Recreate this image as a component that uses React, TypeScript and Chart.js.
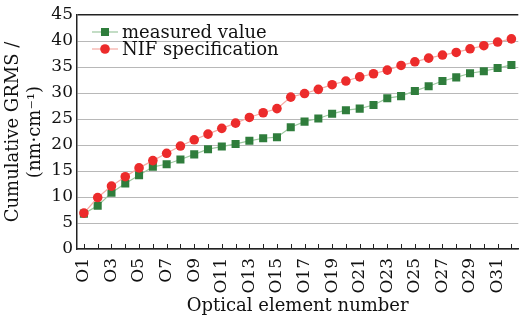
import React, { useEffect, useRef } from "react";
import { Chart, registerables } from "chart.js";

Chart.register(...registerables);

const categories: string[] = [
  "O1", "O2", "O3", "O4", "O5", "O6", "O7", "O8", "O9", "O10", "O11", "O12", "O13", "O14", "O15", "O16",
  "O17", "O18", "O19", "O20", "O21", "O22", "O23", "O24", "O25", "O26", "O27", "O28", "O29", "O30", "O31", "O32",
];

const measuredValue: number[] = [
  6.8, 8.3, 10.8, 12.6, 14.2, 15.8, 16.3, 17.2, 18.2, 19.2, 19.7, 20.2, 20.8, 21.3, 21.5, 23.4,
  24.5, 25.1, 26.0, 26.7, 27.0, 27.7, 29.0, 29.4, 30.4, 31.3, 32.3, 33.0, 33.8, 34.2, 34.8, 35.4,
];

const nifSpecification: number[] = [
  6.9, 9.9, 12.1, 13.9, 15.6, 17.0, 18.4, 19.8, 21.0, 22.1, 23.2, 24.2, 25.3, 26.2, 27.0, 29.2,
  29.9, 30.7, 31.6, 32.3, 33.1, 33.7, 34.4, 35.3, 36.0, 36.7, 37.3, 37.8, 38.5, 39.1, 39.8, 40.4,
];

const seriesNames: string[] = ["measured value", "NIF specification"];
const yTitle: string[] = ["Cumulative GRMS /", "(nm\u00b7cm\u207b\u00b9)"];
const xTitle = "Optical element number";

const FONT = "'DejaVu Serif', serif";
const GREEN = "#2f7d3c";
const GREEN_LINE = "#9cc79f";
const RED = "#ec2b2b";
const RED_LINE = "#f5aaa3";
const AXIS = "#222222";

const overlayPlugin = {
  id: "overlay",
  afterDraw(chart: any) {
    const ctx = chart.ctx;
    const xs = chart.scales.x;
    const area = chart.chartArea;
    ctx.save();
    ctx.strokeStyle = AXIS;
    ctx.lineWidth = 1;
    for (let i = 0; i < xs.ticks.length; i++) {
      const px = Math.round(xs.getPixelForTick(i)) + 0.5;
      ctx.beginPath();
      ctx.moveTo(px, area.bottom);
      ctx.lineTo(px, area.bottom - 5);
      ctx.stroke();
    }
    const items = [
      { name: seriesNames[0], color: GREEN, line: GREEN_LINE, style: "rect", y: 32 },
      { name: seriesNames[1], color: RED, line: RED_LINE, style: "circle", y: 49 },
    ];
    ctx.font = `18px ${FONT}`;
    ctx.textBaseline = "middle";
    ctx.textAlign = "left";
    for (const it of items) {
      ctx.strokeStyle = it.line;
      ctx.lineWidth = 1.2;
      ctx.beginPath();
      ctx.moveTo(92, it.y);
      ctx.lineTo(118, it.y);
      ctx.stroke();
      ctx.fillStyle = it.color;
      if (it.style === "rect") {
        ctx.fillRect(105 - 4, it.y - 4, 8, 8);
      } else {
        ctx.beginPath();
        ctx.arc(105, it.y, 4.8, 0, Math.PI * 2);
        ctx.fill();
      }
      ctx.fillStyle = "#111";
      ctx.fillText(it.name, 122, it.y + 1);
    }
    ctx.restore();
  },
};

export default function App() {
  const ref = useRef<HTMLCanvasElement | null>(null);
  useEffect(() => {
    document.body.style.margin = "0";
    if (!ref.current) return;
    const chart = new Chart(ref.current, {
      type: "line",
      data: {
        labels: categories,
        datasets: [
          {
            label: seriesNames[0],
            data: measuredValue,
            borderColor: GREEN_LINE,
            borderWidth: 1.2,
            backgroundColor: GREEN,
            pointBackgroundColor: GREEN,
            pointBorderColor: GREEN,
            pointBorderWidth: 0,
            pointStyle: "rect",
            pointRadius: 5.7,
            order: 1,
          },
          {
            label: seriesNames[1],
            data: nifSpecification,
            borderColor: RED_LINE,
            borderWidth: 1.2,
            backgroundColor: RED,
            pointBackgroundColor: RED,
            pointBorderColor: RED,
            pointBorderWidth: 0,
            pointStyle: "circle",
            pointRadius: 4.8,
            order: 0,
          },
        ],
      },
      options: {
        responsive: false,
        animation: false,
        layout: { padding: { top: 15, right: 0, left: 0, bottom: 0 } },
        plugins: { legend: { display: false }, tooltip: { enabled: false } },
        scales: {
          x: {
            type: "category",
            offset: true,
            afterFit: (s: any) => {
              s.height = 75;
              s.paddingLeft = 0;
              s.paddingRight = 0;
            },
            grid: { display: true, drawOnChartArea: false, drawTicks: false },
            border: { display: true, color: AXIS, width: 1.5 },
            ticks: {
              autoSkip: false,
              maxRotation: 90,
              minRotation: 90,
              padding: 9,
              color: "#111",
              font: { family: FONT, size: 17 },
              callback: (_v: any, i: number) => (i % 2 === 0 ? categories[i] : ""),
            },
            title: {
              display: true,
              text: xTitle,
              color: "#111",
              font: { family: FONT, size: 18 },
              padding: { top: 4, bottom: 7 },
            },
          },
          y: {
            min: 0,
            max: 45,
            afterFit: (s: any) => {
              s.width = 77;
              s.paddingTop = 0;
              s.paddingBottom = 0;
            },
            grid: {
              drawTicks: false,
              color: (c: any) => (c.tick && c.tick.value === 45 ? AXIS : "#b8b8b8"),
              lineWidth: (c: any) => (c.tick && c.tick.value === 45 ? 1.5 : 1),
            },
            border: { display: true, color: AXIS, width: 1.5 },
            ticks: {
              stepSize: 5,
              padding: 4,
              color: "#111",
              font: { family: FONT, size: 17 },
            },
            title: {
              display: true,
              text: yTitle,
              color: "#111",
              font: { family: FONT, size: 18 },
              padding: { top: 3, bottom: 0 },
            },
          },
        },
      },
      plugins: [overlayPlugin],
    });
    return () => chart.destroy();
  }, []);
  return (
    <div style={{ width: 524, height: 324 }}>
      <canvas ref={ref} width={524} height={324} />
    </div>
  );
}
